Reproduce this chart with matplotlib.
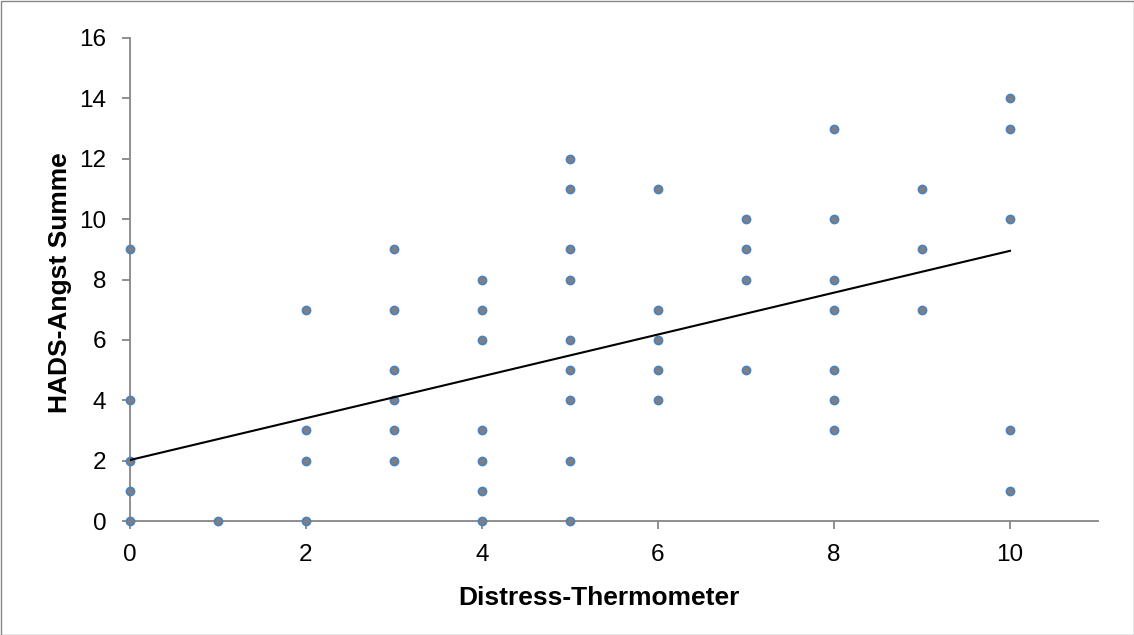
import matplotlib
matplotlib.use("Agg")
import matplotlib.pyplot as plt
from matplotlib.patches import Rectangle

# Data: Distress-Thermometer (x) vs HADS-Angst Summe (y)
dt_values = [0, 0, 0, 0, 0,
             1,
             2, 2, 2, 2,
             3, 3, 3, 3, 3, 3,
             4, 4, 4, 4, 4, 4, 4,
             5, 5, 5, 5, 5, 5, 5, 5, 5,
             6, 6, 6, 6, 6,
             7, 7, 7, 7,
             8, 8, 8, 8, 8, 8, 8,
             9, 9, 9,
             10, 10, 10, 10, 10]
hads_values = [0, 1, 2, 4, 9,
               0,
               0, 2, 3, 7,
               2, 3, 4, 5, 7, 9,
               0, 1, 2, 3, 6, 7, 8,
               0, 2, 4, 5, 6, 8, 9, 11, 12,
               4, 5, 6, 7, 11,
               5, 8, 9, 10,
               3, 4, 5, 7, 8, 10, 13,
               7, 9, 11,
               1, 3, 10, 13, 14]

# Linear trend line
trend_x = [0, 10]
trend_y = [2.02, 8.95]

x_ticks = [0, 2, 4, 6, 8, 10]
y_ticks = [0, 2, 4, 6, 8, 10, 12, 14, 16]

plt.rcParams['font.family'] = ['Liberation Sans', 'DejaVu Sans']

fig = plt.figure(figsize=(11.34, 6.35), dpi=100)
ax = fig.add_axes([130/1134, 114/635, (1098-130)/1134, (521-38)/635])

axis_gray = '#868686'
ax.scatter(dt_values, hads_values, s=32, facecolor='#7F7F7F', edgecolor='#4F81BD',
           linewidths=1.4, zorder=3, clip_on=False)
ax.plot(trend_x, trend_y, color='black', linewidth=1.5, zorder=4)

ax.set_xlim(0, 11)
ax.set_ylim(0, 16)
ax.set_xticks(x_ticks)
ax.set_yticks(y_ticks)
ax.tick_params(direction='out', length=5.5, width=1.3, color=axis_gray, labelsize=17.5)
ax.tick_params(axis='x', pad=11)
ax.tick_params(axis='y', pad=11.5)
for s in ['top', 'right']:
    ax.spines[s].set_visible(False)
for s in ['left', 'bottom']:
    ax.spines[s].set_color(axis_gray)
    ax.spines[s].set_linewidth(1.3)

ax.set_xlabel('Distress-Thermometer', fontsize=19, fontweight='bold', labelpad=16)
ax.xaxis.set_label_coords((598.5 - 130) / 968, -(598 - 521) / 483, transform=ax.transAxes)
ax.xaxis.label.set_va('center')
ax.set_ylabel('HADS-Angst Summe', fontsize=19, fontweight='bold')
ax.yaxis.set_label_coords(-(130 - 60) / 968, (521 - 283) / 483, transform=ax.transAxes)
ax.yaxis.label.set_va('center')

fig.patches.append(Rectangle((0.5/1134, 0.5/635), 1 - 1/1134, 1 - 1/635,
                             transform=fig.transFigure, fill=False,
                             edgecolor=axis_gray, linewidth=1))

fig.savefig('out.png', dpi=100)
